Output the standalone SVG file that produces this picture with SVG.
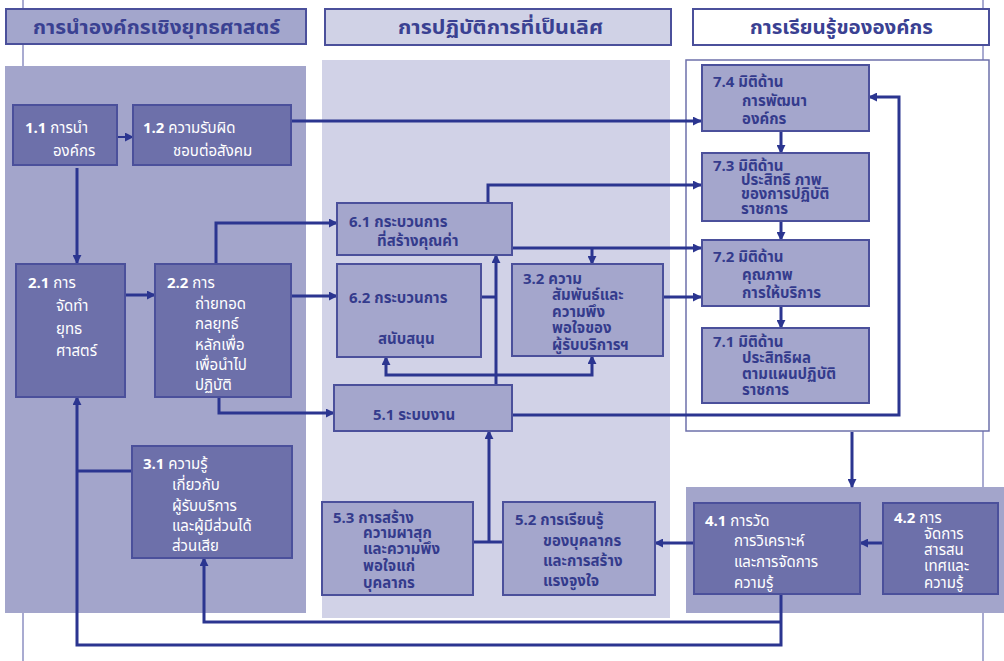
<svg xmlns="http://www.w3.org/2000/svg" width="1004" height="661" viewBox="0 0 1004 661">
<defs>
<marker id="ah" viewBox="0 0 10 10" refX="9" refY="5" markerWidth="9" markerHeight="9" markerUnits="userSpaceOnUse" orient="auto-start-reverse">
<path d="M0,0 L10,5 L0,10 z" fill="#2b3590"/>
</marker>
<style>
text{font-family:"Noto Sans Thai","Tahoma","Noto Sans","DejaVu Sans",sans-serif;}
.hd{font-size:19px;font-weight:bold;fill:#3a4192;}
.dk rect{fill:#6d70aa;stroke:#4b509b;stroke-width:2;}
.dk text{fill:#ffffff;font-size:15px;}
.lt rect{fill:#a4a6cc;stroke:#4b509b;stroke-width:2;}
.lt text{fill:#343b8c;font-size:15px;font-weight:bold;}
.num{font-weight:bold;}
.c path{fill:none;stroke:#2b3590;stroke-width:3;}
.thin{stroke:#8d90c2;stroke-width:1.5;fill:none;}
</style>
</defs>
<rect width="1004" height="661" fill="#ffffff"/>
<path class="thin" d="M23,0 V661 M983,0 V661"/>
<!-- headers -->
<g id="h1"><rect x="6" y="9" width="300" height="35" fill="#a3a6cc" stroke="#4b509b" stroke-width="2"/><text class="hd" x="33" y="34" textLength="247" lengthAdjust="spacingAndGlyphs">การนำองค์กรเชิงยุทธศาสตร์</text></g>
<g id="h2"><rect x="325" y="9" width="346" height="36" fill="#d0d2e6" stroke="#4b509b" stroke-width="2"/><text class="hd" x="398" y="34" textLength="205" lengthAdjust="spacingAndGlyphs">การปฏิบัติการที่เป็นเลิศ</text></g>
<g id="h3"><rect x="693" y="9" width="296" height="36" fill="#ffffff" stroke="#4b509b" stroke-width="2"/><text class="hd" x="750" y="34" textLength="183" lengthAdjust="spacingAndGlyphs">การเรียนรู้ขององค์กร</text></g>
<!-- panels -->
<rect x="5" y="66" width="301" height="547" fill="#a3a5cb"/>
<rect x="322" y="60" width="348" height="558" fill="#d1d2e7"/>
<rect x="686" y="60" width="303" height="371" fill="#ffffff" stroke="#6d70aa" stroke-width="1.5"/>
<rect x="686" y="487" width="318" height="126" fill="#a3a5cb"/>
<!-- connectors -->
<g class="c" id="connectors">
<path d="M117,137 H133" marker-end="url(#ah)" style="stroke-width:2"/>
<path d="M77,168 V263" marker-end="url(#ah)"/>
<path d="M291,121 H701" marker-end="url(#ah)"/>
<path d="M125,295 H155" marker-end="url(#ah)"/>
<path d="M216,264 V223 H337" marker-end="url(#ah)"/>
<path d="M291,296 H337" marker-end="url(#ah)"/>
<path d="M219,397 V413 H334" marker-end="url(#ah)"/>
<path d="M781,594 V645 H77 V397" marker-end="url(#ah)"/>
<path d="M77,471 H132"/>
<path d="M781,622 H204 V558" marker-end="url(#ah)"/>
<path d="M488,203 V185 H701" marker-end="url(#ah)"/>
<path d="M512,248 H701" marker-end="url(#ah)"/>
<path d="M592,248 V264" marker-end="url(#ah)"/>
<path d="M663,297 H701" marker-end="url(#ah)"/>
<path d="M481,297 H496"/>
<path d="M496,385 V255" marker-end="url(#ah)"/>
<path d="M386,357 V375 H592 V356" marker-start="url(#ah)" marker-end="url(#ah)"/>
<path d="M512,415 H899 V97 H869" marker-end="url(#ah)"/>
<path d="M473,542 H503"/>
<path d="M489,542 V431" marker-end="url(#ah)"/>
<path d="M694,543 H655" marker-end="url(#ah)"/>
<path d="M883,543 H860" marker-end="url(#ah)"/>
<path d="M781,131 V153" marker-end="url(#ah)"/>
<path d="M781,221 V240" marker-end="url(#ah)"/>
<path d="M781,306 V328" marker-end="url(#ah)"/>
<path d="M852,432 V487" marker-end="url(#ah)"/>
</g>
<!-- nodes -->
<g id="n11" class="dk"><rect x="13" y="105" width="104" height="60"/><text x="25" y="133"><tspan class="num">1.1</tspan> การนำ<tspan x="53" y="156">องค์กร</tspan></text></g>
<g id="n12" class="dk"><rect x="133" y="105" width="158" height="60"/><text x="143" y="133"><tspan class="num">1.2</tspan> ความรับผิด<tspan x="173" y="156">ชอบต่อสังคม</tspan></text></g>
<g id="n21" class="dk"><rect x="16" y="264" width="109" height="133"/><text x="28" y="288"><tspan class="num">2.1</tspan> การ<tspan x="56" y="311">จัดทำ</tspan><tspan x="56" y="334">ยุทธ</tspan><tspan x="56" y="356">ศาสตร์</tspan></text></g>
<g id="n22" class="dk"><rect x="155" y="264" width="136" height="133"/><text x="167" y="288"><tspan class="num">2.2</tspan> การ<tspan x="195" y="309">ถ่ายทอด</tspan><tspan x="195" y="329">กลยุทธ์</tspan><tspan x="195" y="350">หลักเพื่อ</tspan><tspan x="195" y="370">เพื่อนำไป</tspan><tspan x="195" y="390">ปฏิบัติ</tspan></text></g>
<g id="n31" class="dk"><rect x="132" y="446" width="160" height="112"/><text x="143" y="469"><tspan class="num">3.1</tspan> ความรู้<tspan x="172" y="490">เกี่ยวกับ</tspan><tspan x="172" y="511">ผู้รับบริการ</tspan><tspan x="172" y="531">และผู้มีส่วนได้</tspan><tspan x="172" y="551">ส่วนเสีย</tspan></text></g>
<g id="n61" class="lt"><rect x="337" y="203" width="175" height="52"/><text x="349" y="227">6.1 กระบวนการ<tspan x="377" y="246">ที่สร้างคุณค่า</tspan></text></g>
<g id="n62" class="lt"><rect x="337" y="264" width="144" height="93"/><text x="349" y="303">6.2 กระบวนการ<tspan x="378" y="344">สนับสนุน</tspan></text></g>
<g id="n32" class="lt"><rect x="512" y="264" width="151" height="92"/><text x="523" y="284">3.2 ความ<tspan x="552" y="300">สัมพันธ์และ</tspan><tspan x="552" y="317">ความพึง</tspan><tspan x="552" y="333">พอใจของ</tspan><tspan x="552" y="350">ผู้รับบริการฯ</tspan></text></g>
<g id="n51" class="lt"><rect x="334" y="385" width="178" height="46"/><text x="373" y="420">5.1 ระบบงาน</text></g>
<g id="n53" class="lt"><rect x="322" y="502" width="151" height="93"/><text x="333" y="523">5.3 การสร้าง<tspan x="363" y="538">ความผาสุก</tspan><tspan x="363" y="554">และความพึง</tspan><tspan x="363" y="571">พอใจแก่</tspan><tspan x="363" y="588">บุคลากร</tspan></text></g>
<g id="n52" class="lt"><rect x="503" y="502" width="152" height="93"/><text x="515" y="525">5.2 การเรียนรู้<tspan x="543" y="546">ของบุคลากร</tspan><tspan x="543" y="566">และการสร้าง</tspan><tspan x="543" y="586">แรงจูงใจ</tspan></text></g>
<g id="n74" class="lt"><rect x="702" y="65" width="167" height="66"/><text x="713" y="87">7.4 มิติด้าน<tspan x="742" y="106">การพัฒนา</tspan><tspan x="742" y="124">องค์กร</tspan></text></g>
<g id="n73" class="lt"><rect x="702" y="153" width="167" height="68"/><text x="713" y="171">7.3 มิติด้าน<tspan x="741" y="185">ประสิทธิ ภาพ</tspan><tspan x="741" y="199">ของการปฏิบัติ</tspan><tspan x="741" y="214">ราชการ</tspan></text></g>
<g id="n72" class="lt"><rect x="702" y="240" width="167" height="66"/><text x="713" y="262">7.2 มิติด้าน<tspan x="742" y="280">คุณภาพ</tspan><tspan x="742" y="298">การให้บริการ</tspan></text></g>
<g id="n71" class="lt"><rect x="702" y="328" width="167" height="75"/><text x="713" y="347">7.1 มิติด้าน<tspan x="742" y="363">ประสิทธิผล</tspan><tspan x="742" y="379">ตามแผนปฏิบัติ</tspan><tspan x="742" y="395">ราชการ</tspan></text></g>
<g id="n41" class="dk"><rect x="694" y="503" width="166" height="91"/><text x="705" y="526"><tspan class="num">4.1</tspan> การวัด<tspan x="734" y="546">การวิเคราะห์</tspan><tspan x="734" y="567">และการจัดการ</tspan><tspan x="734" y="588">ความรู้</tspan></text></g>
<g id="n42" class="dk"><rect x="883" y="503" width="115" height="91"/><text x="894" y="523"><tspan class="num">4.2</tspan> การ<tspan x="924" y="539">จัดการ</tspan><tspan x="924" y="555">สารสน</tspan><tspan x="924" y="571">เทศและ</tspan><tspan x="924" y="588">ความรู้</tspan></text></g>
</svg>
